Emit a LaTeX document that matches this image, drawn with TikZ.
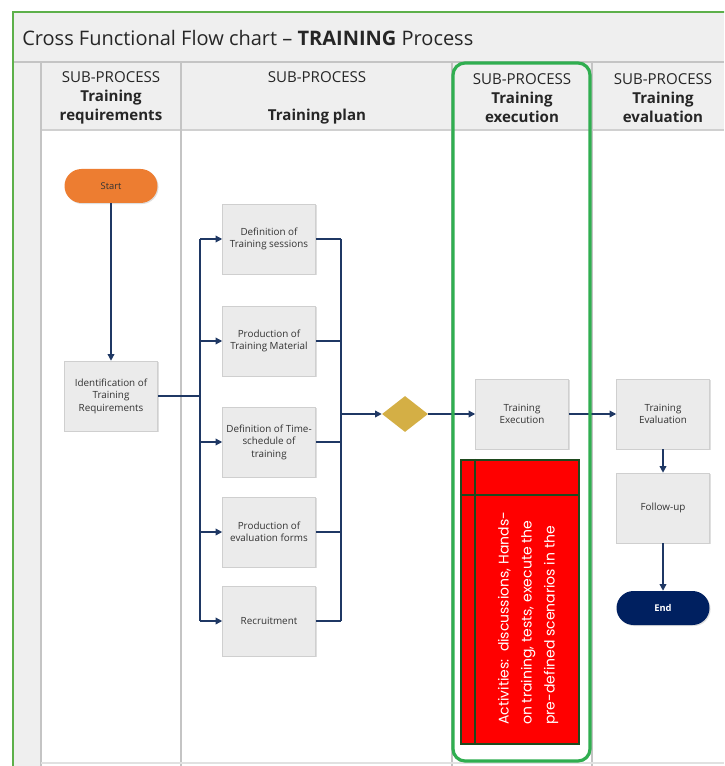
\documentclass[tikz,border=0pt]{standalone}
\usepackage{fontspec}
\setmainfont{Open Sans}
\newfontfamily\gothic{Poppins}
\usetikzlibrary{arrows.meta,shapes.geometric,shadows,calc}
\definecolor{navy}{HTML}{1F3864}
\definecolor{endnavy}{HTML}{002060}
\definecolor{startorange}{HTML}{ED7D31}
\definecolor{diagold}{HTML}{D4AF45}
\definecolor{hdrgray}{HTML}{EFEFEF}
\definecolor{boxfill}{HTML}{EBEBEB}
\definecolor{boxline}{HTML}{CFCFCF}
\definecolor{lanegray}{HTML}{C4C4C4}
\definecolor{txtgray}{HTML}{333333}
\definecolor{framegreen}{HTML}{5DB04A}
\definecolor{selgreen}{HTML}{30AE50}
\definecolor{darkgreen}{HTML}{1E4A1E}
\begin{document}
\begin{tikzpicture}[x=0.75pt,y=-0.75pt,
  box/.style={draw=boxline,fill=boxfill,minimum width=69.75pt,minimum height=52.5pt,
    align=center,font=\fontsize{7.4}{9.4}\selectfont,text=txtgray,inner sep=1pt,
    drop shadow={opacity=0.25,shadow xshift=0.8pt,shadow yshift=-0.8pt}},
  pill/.style={rounded corners=12.75pt,minimum width=69.75pt,minimum height=25.5pt,
    inner sep=0pt,font=\fontsize{7}{9}\selectfont,
    drop shadow={opacity=0.25,shadow xshift=0.8pt,shadow yshift=-0.8pt}},
  conn/.style={draw=navy,line width=1pt,-{Triangle[length=5pt,width=5pt]}},
  wire/.style={draw=navy,line width=1pt},
  lanehead/.style={align=center,font=\fontsize{11.3}{14.5}\selectfont,text=black!85}
]
\useasboundingbox (0,0) rectangle (724,766);
\clip (0,0) rectangle (724,766);
\fill[white] (0,0) rectangle (724,766);
% title bar and header
\fill[hdrgray] (14,13) rectangle (724,130);
\fill[hdrgray] (14,62) rectangle (41,766);
\draw[lanegray,line width=0.8pt] (14,62) -- (724,62);
\draw[lanegray!80,line width=1.6pt] (41,130) -- (724,130);
\foreach \xx in {41,181,452,592}{\draw[lanegray,line width=1.1pt] (\xx,62) -- (\xx,766);}
\draw[lanegray!50,line width=0.8pt] (41,763) -- (724,763);
\node[anchor=west,inner sep=0pt,font=\fontsize{15}{18}\selectfont,text=black!85] (title) at (22,38)
  {Cross Functional Flow chart -- \textbf{TRAINING} Process};
% lane headers
\node[lanehead] (h1) at (111,98) {SUB-PROCESS\\\textbf{Training}\\\textbf{requirements}};
\node[lanehead] (h2) at (317,98) {SUB-PROCESS\\\phantom{X}\\\textbf{Training plan}};
\node[lanehead] (h3) at (522,98) {SUB-PROCESS\\\textbf{Training}\\\textbf{execution}};
\node[lanehead] (h4) at (663,98) {SUB-PROCESS\\\textbf{Training}\\\textbf{evaluation}};
% nodes
\node[pill,fill=startorange,text=txtgray] (start) at (111,186) {Start};
\node[box] (ident) at (111,396) {Identification of\\Training\\Requirements};
\node[box] (d1) at (269,239) {Definition of\\Training sessions};
\node[box] (d2) at (269,341) {Production of\\Training Material};
\node[box] (d3) at (269,442) {Definition of Time-\\schedule of\\training};
\node[box] (d4) at (269,532) {Production of\\evaluation forms};
\node[box] (d5) at (269,621) {Recruitment};
\node[diamond,fill=diagold,minimum width=34.5pt,minimum height=27pt,inner sep=0pt] (dia) at (405,414) {};
\node[box] (exec) at (522,414) {Training\\Execution};
\node[box] (eval) at (663,414) {Training\\Evaluation};
\node[box] (follow) at (663,508) {Follow-up};
\node[pill,fill=endnavy,text=white,font=\fontsize{7}{9}\selectfont\bfseries] (endn) at (663,608) {End};
% connectors
\draw[conn] (start) -- (ident);
\coordinate (busL) at (200,396);
\coordinate (busR) at (341,414);
\draw[wire] (ident.east) -- (busL);
\draw[wire] (busL |- d1) -- (busL |- d5);
\foreach \n in {d1,d2,d3,d4,d5}{
  \draw[conn] (busL |- \n) -- (\n.west);
  \draw[wire] (\n.east) -- (busR |- \n);
}
\draw[wire] (busR |- d1) -- (busR |- d5);
\draw[conn] (busR) -- (dia.west);
\draw[conn] (dia.east) -- (exec.west);
\draw[conn] (exec.east) -- (eval.west);
\draw[conn] (eval.south) -- (follow.north);
\draw[conn] (follow.south) -- (endn.north);
% red activities box
\node[draw=darkgreen,fill=red,line width=1.6pt,minimum width=88.5pt,minimum height=213pt,inner sep=0pt] (act) at (520,602) {};
\draw[darkgreen,line width=1.6pt] ($(act.north west)+(15,0)$) -- ($(act.south west)+(15,0)$);
\draw[darkgreen,line width=1.6pt] ($(act.north west)+(0,36)$) -- ($(act.north east)+(0,36)$);
\node[rotate=90,anchor=west,align=left,text=white,inner sep=0pt,font=\gothic\fontsize{10.5}{17.25}\selectfont] (acttext) at (528,725)
  {Activities:\ \ discussions, Hands-\\on training, tests, execute the\\pre-defined scenarios in the};
% selection frame
\draw[selgreen,line width=2.4pt,rounded corners=9pt] (453,63) rectangle (590,761);
% outer frame
\draw[framegreen,line width=1.6pt] (13,780) -- (13,12) -- (740,12);
\end{tikzpicture}
\end{document}
